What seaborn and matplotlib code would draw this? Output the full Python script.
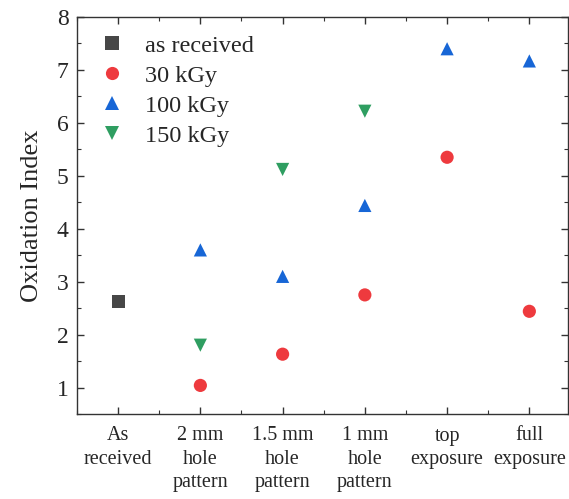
import matplotlib
matplotlib.use("Agg")
import matplotlib.pyplot as plt
from matplotlib.ticker import MultipleLocator
import seaborn as sns
import pandas as pd

categories = ["As\nreceived", "2 mm\nhole\npattern", "1.5 mm\nhole\npattern",
              "1 mm\nhole\npattern", "top\nexposure", "full\nexposure"]

as_received = [2.62]
kgy30 = [1.04, 1.63, 2.75, 5.35, 2.44]
kgy100 = [3.60, 3.10, 4.44, 7.40, 7.17]
kgy150 = [1.80, 5.12, 6.22]

series_names = ["as received", "30 kGy", "100 kGy", "150 kGy"]
colors = ["#474747", "#ee3a3e", "#1766d6", "#2f9e61"]
markers = ["s", "o", "^", "v"]

rows = []
rows += [(0, v, "as received") for v in as_received]
rows += [(i + 1, v, "30 kGy") for i, v in enumerate(kgy30)]
rows += [(i + 1, v, "100 kGy") for i, v in enumerate(kgy100)]
rows += [(i + 1, v, "150 kGy") for i, v in enumerate(kgy150)]
df = pd.DataFrame(rows, columns=["pos", "oi", "group"])

sns.set_theme(style="ticks")
plt.rcParams["font.family"] = ["Liberation Serif", "DejaVu Serif"]
plt.rcParams["mathtext.fontset"] = "stix"

fig = plt.figure(figsize=(5.69, 4.99), dpi=100)
ax = fig.add_axes([77 / 569, 1 - 414 / 499, (568 - 77) / 569, (414 - 17) / 499])

sns.scatterplot(data=df, x="pos", y="oi", hue="group", style="group",
                hue_order=series_names, style_order=series_names,
                palette=dict(zip(series_names, colors)),
                markers=dict(zip(series_names, markers)),
                s=90, linewidth=0, ax=ax)

ax.set_xlim(-0.5, 5.47)
ax.set_ylim(0.5, 8)
ax.set_xticks(range(len(categories)))
ax.set_xticklabels(categories, fontsize=14.5, linespacing=1.3)
ax.xaxis.set_minor_locator(MultipleLocator(0.5))
ax.yaxis.set_major_locator(MultipleLocator(1))
ax.yaxis.set_minor_locator(MultipleLocator(0.5))
ax.tick_params(axis="y", labelsize=17, pad=6)
ax.tick_params(which="both", direction="in", top=True, right=True, color="#333333")
ax.tick_params(which="major", length=5, width=1)
ax.tick_params(which="minor", length=3, width=0.8)
ax.tick_params(axis="x", which="major", pad=9)
for sp in ax.spines.values():
    sp.set_linewidth(1.0)
    sp.set_color("#333333")
ax.set_xlabel("")
ax.set_ylabel("Oxidation Index", fontsize=19, labelpad=10)

leg = ax.legend(loc="upper left", frameon=False, fontsize=17.5, title=None,
                markerscale=1.0, handlelength=1.0, handletextpad=0.85,
                labelspacing=0.33, borderaxespad=0.0,
                bbox_to_anchor=(0.027, 0.98))

fig.savefig("out.png", dpi=100)
